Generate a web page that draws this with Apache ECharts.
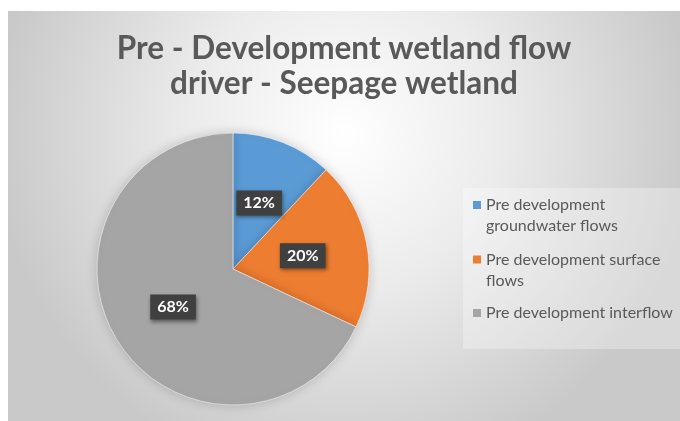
<!DOCTYPE html>
<html>
<head>
<meta charset="utf-8">
<script src="https://cdn.jsdelivr.net/npm/echarts@6/dist/echarts.min.js"></script>
<style>
  html, body { margin: 0; padding: 0; background: #ffffff; }
  #chart { position: absolute; left: 8px; top: 11px; width: 672px; height: 410px; }
</style>
</head>
<body>
<div id="chart"></div>
<script>
// Flow driver shares for the seepage wetland before development
const categories = [
  'Pre development groundwater flows',
  'Pre development surface flows',
  'Pre development interflow'
];
const shares = [12, 20, 68];
const sliceColors = ['#5b9bd5', '#ed7d31', '#a5a5a5'];
const legendLabels = [
  'Pre development\ngroundwater flows',
  'Pre development surface\nflows',
  'Pre development interflow'
];
const legendTops = [183.5, 238, 287.5];

const chart = echarts.init(document.getElementById('chart'), null, { renderer: 'canvas' });

const FONT = 'Lato, "Open Sans", sans-serif';

// Square marker inside a 8x29 box: the invisible zero-length strokes stretch the
// path bounds so the square sits beside the first text line (two-line entries)
// or in the middle (one-line entry).
const ICON_TOP = 'path://M0,0L8,0L8,8L0,8Z M0,29L0.001,29';
const ICON_MID = 'path://M0,0L0.001,0 M0,10.5L8,10.5L8,18.5L0,18.5Z M0,29L0.001,29';

const legends = categories.map((name, i) => {
  const twoLines = legendLabels[i].indexOf('\n') >= 0;
  return {
    data: [{ name, icon: twoLines ? ICON_TOP : ICON_MID }],
    left: 465,
    top: legendTops[i],
    padding: 0,
    itemWidth: 8,
    itemHeight: 29,
    selectedMode: false,
    itemStyle: { borderWidth: 0, shadowBlur: 0 },
    formatter: () => legendLabels[i],
    textStyle: {
      fontFamily: FONT,
      fontSize: 16,
      color: '#595959',
      lineHeight: 21
    }
  };
});

chart.setOption({
  backgroundColor: {
    type: 'radial',
    x: 0.5, y: 0.3, r: 0.85,
    colorStops: [
      { offset: 0, color: '#ffffff' },
      { offset: 0.45, color: '#ebebeb' },
      { offset: 1, color: '#c9c9c9' }
    ]
  },
  title: {
    text: 'Pre - Development wetland flow\ndriver - Seepage wetland',
    left: 'center',
    top: 20,
    padding: [0, 0, 0, 20],
    textStyle: {
      fontFamily: FONT,
      fontWeight: 'bold',
      fontSize: 31.5,
      lineHeight: 35,
      color: '#595959',
      align: 'center'
    }
  },
  graphic: [{
    type: 'rect',
    left: 455,
    top: 177,
    shape: { width: 217, height: 161 },
    style: { fill: 'rgba(255,255,255,0.3)' },
    z: -1
  }],
  legend: legends,
  series: [{
    type: 'pie',
    center: [225, 258],
    radius: [0, 136],
    startAngle: 90,
    clockwise: true,
    animation: false,
    silent: true,
    itemStyle: {
      borderColor: 'rgba(255,255,255,0.5)',
      borderWidth: 1,
      shadowBlur: 12,
      shadowColor: 'rgba(0,0,0,0.18)'
    },
    label: {
      show: true,
      position: 'inside',
      formatter: p => p.value + '%',
      fontFamily: FONT,
      fontWeight: 'bold',
      fontSize: 16,
      color: '#ffffff',
      backgroundColor: '#404040',
      padding: [5, 7, 4, 7],
      shadowBlur: 4,
      shadowColor: 'rgba(0,0,0,0.45)',
      shadowOffsetX: 1,
      shadowOffsetY: 2
    },
    labelLine: { show: false },
    data: categories.map((name, i) => ({
      name,
      value: shares[i],
      itemStyle: { color: sliceColors[i] }
    }))
  }]
});
</script>
</body>
</html>
